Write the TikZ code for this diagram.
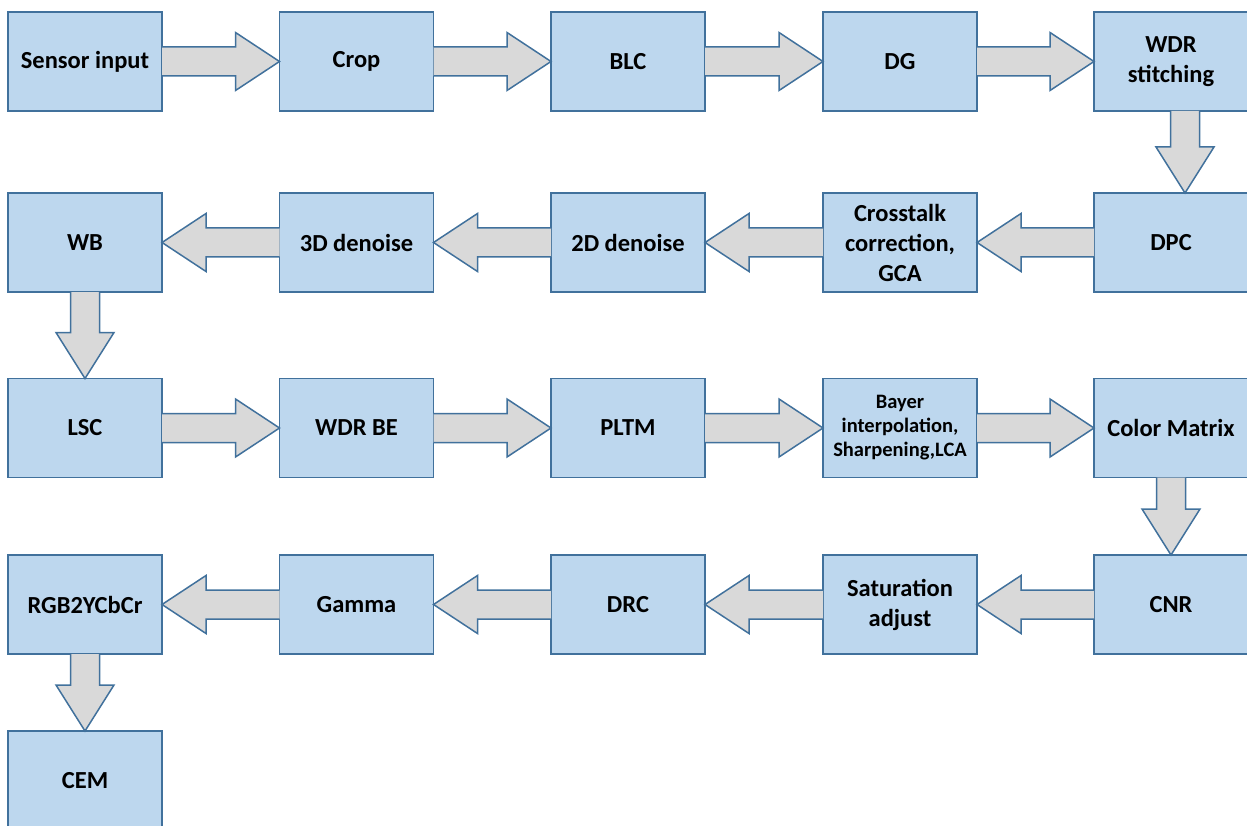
\documentclass[tikz,border=0pt]{standalone}
\usepackage{fontspec}
\setmainfont{Carlito}
\usetikzlibrary{calc}
\definecolor{boxfill}{HTML}{BDD7EE}
\definecolor{boxline}{HTML}{41719C}
\definecolor{arrfill}{HTML}{D9D9D9}
\tikzset{
  stage/.style={draw=boxline, fill=boxfill, line width=1.5pt, minimum width=154pt, minimum height=99pt,
    inner sep=2pt, outer sep=0pt, align=center, font=\bfseries\fontsize{24.5}{30}\selectfont},
  smallstage/.style={stage, font=\bfseries\fontsize{20.5}{24}\selectfont},
  blockarrow/.style={draw=boxline, fill=arrfill, line width=1.5pt, line join=miter},
}
% right-pointing block arrow from #1.east to #2.west
\newcommand{\rarrow}[2]{%
  \filldraw[blockarrow] ($(#1.east)+(0,-14.5)$) -- ($(#2.west)+(-44,-14.5)$) -- ($(#2.west)+(-44,-29)$)
    -- (#2.west) -- ($(#2.west)+(-44,29)$) -- ($(#2.west)+(-44,14.5)$) -- ($(#1.east)+(0,14.5)$);}
% left-pointing block arrow from #1.west to #2.east
\newcommand{\larrow}[2]{%
  \filldraw[blockarrow] ($(#1.west)+(0,-14.5)$) -- ($(#2.east)+(44,-14.5)$) -- ($(#2.east)+(44,-29)$)
    -- (#2.east) -- ($(#2.east)+(44,29)$) -- ($(#2.east)+(44,14.5)$) -- ($(#1.west)+(0,14.5)$);}
% down-pointing block arrow from #1.south to #2.north, shifted by #3
\newcommand{\darrow}[3]{%
  \filldraw[blockarrow] ($(#1.south)+(#3-14.5,0)$) -- ($(#2.north)+(#3-14.5,-46)$) -- ($(#2.north)+(#3-29,-46)$)
    -- ($(#2.north)+(#3,0)$) -- ($(#2.north)+(#3+29,-46)$) -- ($(#2.north)+(#3+14.5,-46)$) -- ($(#1.south)+(#3+14.5,0)$);}
\begin{document}
\begin{tikzpicture}[x=1pt, y={(0pt,-1pt)}]
\useasboundingbox (0,0) rectangle (1247,826);
% row 1
\node[stage] (sensor) at (85,61.5) {Sensor input};
\node[stage] (crop) at (356.5,61.5) {Crop};
\node[stage] (blc) at (628,61.5) {BLC};
\node[stage] (dg) at (900,61.5) {DG};
\node[stage] (wdr) at (1171,61.5) {WDR\\stitching};
% row 2
\node[stage] (wb) at (85,242.5) {WB};
\node[stage] (dn3) at (356.5,242.5) {3D denoise};
\node[stage] (dn2) at (628,242.5) {2D denoise};
\node[stage] (xtalk) at (900,242.5) {Crosstalk\\correction,\\GCA};
\node[stage] (dpc) at (1171,242.5) {DPC};
% row 3
\node[stage] (lsc) at (85,428) {LSC};
\node[stage] (wdrbe) at (356.5,428) {WDR BE};
\node[stage] (pltm) at (628,428) {PLTM};
\node[smallstage] (bayer) at (900,428) {Bayer\\interpolation,\\Sharpening,LCA};
\node[stage] (cm) at (1171,428) {Color Matrix};
% row 4
\node[stage] (rgb) at (85,604.5) {RGB2YCbCr};
\node[stage] (gamma) at (356.5,604.5) {Gamma};
\node[stage] (drc) at (628,604.5) {DRC};
\node[stage] (sat) at (900,604.5) {Saturation\\adjust};
\node[stage] (cnr) at (1171,604.5) {CNR};
% row 5
\node[stage] (cem) at (85,780.5) {CEM};
% connectors
\rarrow{sensor}{crop}
\rarrow{crop}{blc}
\rarrow{blc}{dg}
\rarrow{dg}{wdr}
\darrow{wdr}{dpc}{14}
\larrow{dpc}{xtalk}
\larrow{xtalk}{dn2}
\larrow{dn2}{dn3}
\larrow{dn3}{wb}
\darrow{wb}{lsc}{0}
\rarrow{lsc}{wdrbe}
\rarrow{wdrbe}{pltm}
\rarrow{pltm}{bayer}
\rarrow{bayer}{cm}
\darrow{cm}{cnr}{0}
\larrow{cnr}{sat}
\larrow{sat}{drc}
\larrow{drc}{gamma}
\larrow{gamma}{rgb}
\darrow{rgb}{cem}{0}
\end{tikzpicture}
\end{document}
